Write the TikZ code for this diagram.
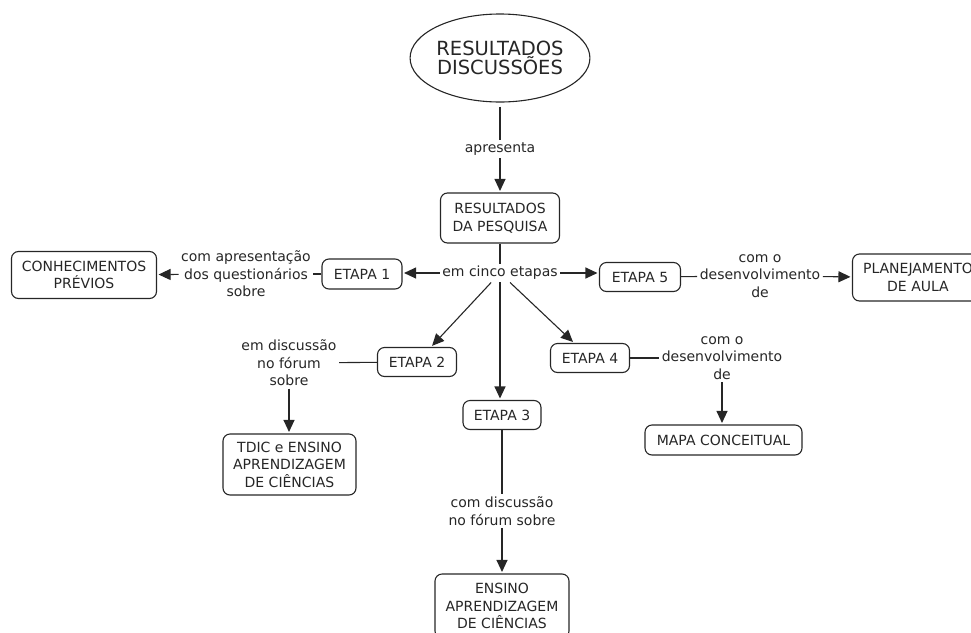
\documentclass[tikz,border=0pt]{standalone}
\usepackage{fontspec}
\setmainfont{DejaVu Sans}
\usetikzlibrary{arrows.meta,shapes.geometric}
\definecolor{ink}{HTML}{262626}
\begin{document}
\begin{tikzpicture}[x=1pt,y=-1pt,
  every node/.style={text=ink, font=\fontsize{14}{17.5}\selectfont},
  concept/.style={draw=ink, line width=1.1pt, rounded corners=7pt, align=center, inner sep=0pt},
  topic/.style={draw=ink, line width=1.1pt, ellipse, align=center, inner sep=0pt,
                font=\fontsize{19.5}{19}\selectfont},
  phrase/.style={align=center, inner sep=2.5pt},
  link/.style={draw=ink, line width=1.1pt},
  arrow/.style={link, -{Triangle[length=12pt,width=11pt]}, shorten >=1.5pt},
]
\useasboundingbox (0,0) rectangle (971,632);

% concepts
\node[topic, minimum width=166pt, minimum height=88pt] (rd) at (500,58) {RESULTADOS\\DISCUSSÕES};
\node[concept, minimum width=119pt, minimum height=50pt] (rp) at (500,218) {RESULTADOS\\DA PESQUISA};
\node[concept, minimum width=80pt, minimum height=30pt] (e1) at (362,274) {ETAPA 1};
\node[concept, minimum width=145pt, minimum height=47pt] (ch) at (84,275) {CONHECIMENTOS\\PRÉVIOS};
\node[concept, minimum width=81pt, minimum height=29pt] (e5) at (640,277) {ETAPA 5};
\node[concept, minimum width=131pt, minimum height=47pt] (pl) at (918,277.5) {PLANEJAMENTO\\DE AULA};
\node[concept, minimum width=79pt, minimum height=29pt] (e2) at (417,362) {ETAPA 2};
\node[concept, minimum width=133pt, minimum height=61pt] (tdic) at (289.5,464.5) {TDIC e ENSINO\\APRENDIZAGEM\\DE CIÊNCIAS};
\node[concept, minimum width=78pt, minimum height=29pt] (e3) at (502,415) {ETAPA 3};
\node[concept, minimum width=134pt, minimum height=64pt] (en) at (502,606) {ENSINO\\APRENDIZAGEM\\DE CIÊNCIAS};
\node[concept, minimum width=79pt, minimum height=29pt] (e4) at (590,358) {ETAPA 4};
\node[concept, minimum width=157pt, minimum height=30pt] (mapa) at (723.5,440) {MAPA CONCEITUAL};

% linking phrases
\node[phrase] (apr) at (500,149) {apresenta};
\node[phrase] (cinco) at (500,273) {em cinco etapas};
\node[phrase] (l1) at (246,274) {com apresentação\\dos questionários\\sobre};
\node[phrase] (l5) at (760,276) {com o\\desenvolvimento\\de};
\node[phrase] (l2) at (289,363) {em discussão\\no fórum\\sobre};
\node[phrase] (l3) at (502,511) {com discussão\\no fórum sobre};
\node[phrase] (l4) at (722,358) {com o\\desenvolvimento\\de};

% connectors
\draw[link, shorten <=4pt] (rd) -- (apr);
\draw[arrow] (apr) -- (rp);
\draw[link] (rp) -- (cinco);
\draw[arrow] (cinco.west) -- (cinco.west -| e1.east);
\draw[arrow] (cinco.east) -- (cinco.east -| e5.west);
\draw[arrow] (cinco) -- (e2);
\draw[arrow] (cinco.south) -- (cinco.south |- e3.north);
\draw[arrow] (cinco) -- (e4);

\draw[link] (e1) -- (l1);
\draw[arrow] (l1) -- (ch);
\draw[link] (e5) -- (l5);
\draw[arrow] (l5) -- (pl);
\draw[link] (e2) -- (l2);
\draw[arrow] (l2.south) -- (l2.south |- tdic.north);
\draw[link] (e3) -- (l3);
\draw[arrow] (l3.south) -- (l3.south |- en.north);
\draw[link] (e4) -- (l4);
\draw[arrow] (l4.south) -- (l4.south |- mapa.north);
\end{tikzpicture}
\end{document}
